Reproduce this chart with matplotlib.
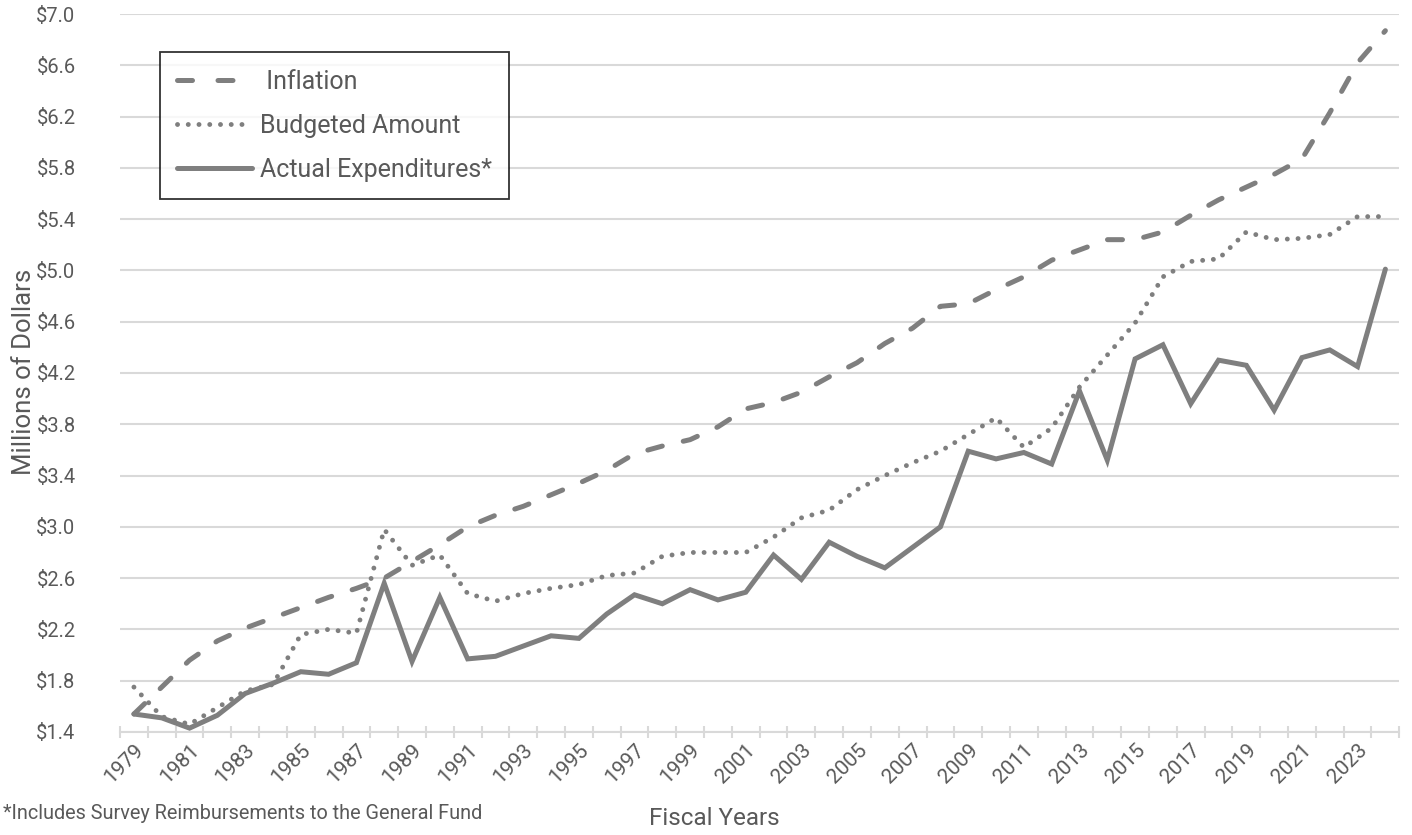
import matplotlib
matplotlib.use('Agg')
import matplotlib.pyplot as plt
from matplotlib.lines import Line2D
from matplotlib.ticker import FixedLocator, FuncFormatter

plt.rcParams['font.family'] = ['Roboto', 'DejaVu Sans']

years = list(range(1979, 2025))

inflation = [1.54, 1.75, 1.96, 2.11, 2.21, 2.29, 2.37, 2.45, 2.52, 2.60,
             2.73, 2.86, 3.00, 3.09, 3.16, 3.25, 3.34, 3.44, 3.57, 3.63,
             3.68, 3.78, 3.92, 3.97, 4.05, 4.17, 4.28, 4.43, 4.55, 4.72,
             4.74, 4.85, 4.95, 5.08, 5.16, 5.24, 5.24, 5.30, 5.43, 5.55,
             5.65, 5.75, 5.87, 6.23, 6.62, 6.87]

budgeted = [1.75, 1.52, 1.46, 1.59, 1.72, 1.77, 2.16, 2.20, 2.17, 2.98,
            2.70, 2.78, 2.48, 2.42, 2.48, 2.52, 2.55, 2.62, 2.64, 2.77,
            2.80, 2.80, 2.80, 2.92, 3.07, 3.13, 3.29, 3.40, 3.50, 3.59,
            3.72, 3.85, 3.62, 3.77, 4.09, 4.34, 4.59, 4.95, 5.07, 5.09,
            5.30, 5.24, 5.25, 5.28, 5.42, 5.42]

actual = [1.54, 1.51, 1.43, 1.53, 1.70, 1.78, 1.87, 1.85, 1.94, 2.56,
          1.95, 2.45, 1.97, 1.99, 2.07, 2.15, 2.13, 2.32, 2.47, 2.40,
          2.51, 2.43, 2.49, 2.78, 2.59, 2.88, 2.77, 2.68, 2.84, 3.00,
          3.59, 3.53, 3.58, 3.49, 4.06, 3.52, 4.31, 4.42, 3.96, 4.30,
          4.26, 3.91, 4.32, 4.38, 4.25, 5.01]

y_ticks = [1.4, 1.8, 2.2, 2.6, 3.0, 3.4, 3.8, 4.2, 4.6, 5.0, 5.4, 5.8, 6.2, 6.6, 7.0]

line_color = '#7f7f7f'
grid_color = '#d9d9d9'
text_color = '#595959'

fig = plt.figure(figsize=(14.12, 8.35), dpi=100)
ax = fig.add_axes([0.085, 0.1234, 0.906, 0.8598])

x = list(range(len(years)))

l1, = ax.plot(x, inflation, color=line_color, lw=3.6, dashes=(3.0, 4.3),
              dash_capstyle='round', label='Inflation')
l2, = ax.plot(x, budgeted, color=line_color, lw=3.5, dashes=(0.01, 2.2),
              dash_capstyle='round', label='Budgeted Amount')
l3, = ax.plot(x, actual, color=line_color, lw=3.6, solid_capstyle='round',
              solid_joinstyle='miter', label='Actual Expenditures*')

ax.set_xlim(-0.5, len(years) - 0.5)
ax.set_ylim(1.4, 7.0)

ax.set_yticks(y_ticks)
ax.yaxis.set_major_formatter(FuncFormatter(lambda v, p: '${:.1f}'.format(v)))
ax.grid(axis='y', color=grid_color, lw=1.5)
ax.set_axisbelow(True)
ax.tick_params(axis='y', length=0, pad=32, labelsize=14.5, labelcolor=text_color)

# labels every other year at category centres, tick marks at category edges
ax.set_xticks(x[::2])
ax.set_xticklabels([str(y) for y in years[::2]], rotation=45, ha='right',
                   rotation_mode='anchor', fontsize=15, color=text_color)
ax.xaxis.set_minor_locator(FixedLocator([i - 0.5 for i in range(len(years) + 1)]))
ax.tick_params(axis='x', which='major', length=0, pad=6)
ax.tick_params(axis='x', which='minor', length=9, width=1.5,
               color=grid_color, direction='inout')

for s in ['top', 'right', 'left']:
    ax.spines[s].set_visible(False)
ax.spines['bottom'].set_color(grid_color)
ax.spines['bottom'].set_linewidth(1.5)

# legend handle for inflation: two dashes then a gap, like the original
infl_handle = Line2D([], [], color=line_color, lw=3.6, dashes=(3.0, 5.1),
                     dash_capstyle='round')
leg = ax.legend([infl_handle, l2, l3],
                [' Inflation', 'Budgeted Amount', 'Actual Expenditures*'],
                loc='upper left', bbox_to_anchor=(0.031, 0.947),
                fontsize=18, handlelength=3.0, handletextpad=0.3,
                labelspacing=0.8, borderpad=0.7, borderaxespad=0,
                fancybox=False, frameon=True, labelcolor=text_color)
leg.get_frame().set_edgecolor('black')
leg.get_frame().set_linewidth(1.3)

fig.text(0.017, 0.555, 'Millions of Dollars', rotation=90, ha='center',
         va='center', fontsize=18.5, color=text_color)
fig.text(0.506, 0.006, 'Fiscal Years', ha='center', va='bottom',
         fontsize=17.5, color=text_color)
fig.text(0.002, 0.014, '*Includes Survey Reimbursements to the General Fund',
         ha='left', va='bottom', fontsize=14.3, color=text_color)

plt.savefig('out.png', dpi=100)
